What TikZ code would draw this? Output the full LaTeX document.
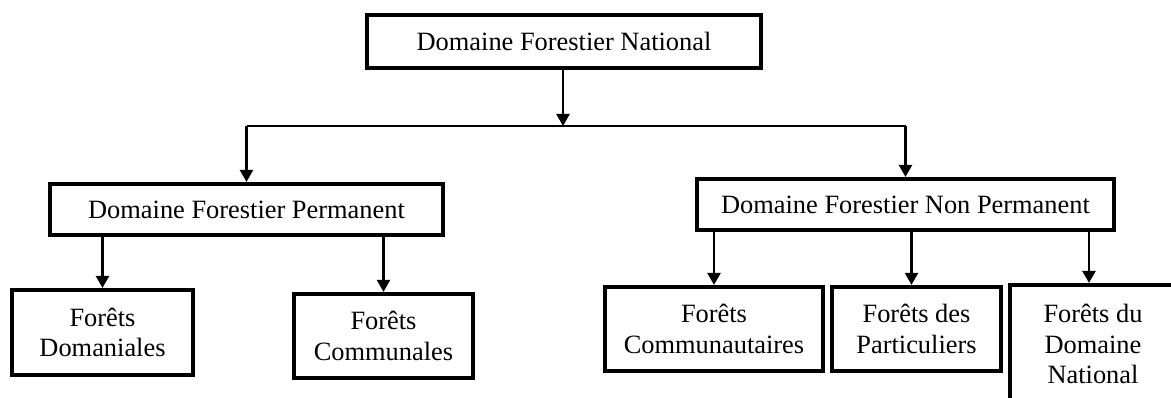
\documentclass[tikz,border=0pt]{standalone}
\usepackage{fontspec}
\setmainfont{Liberation Serif}
\usetikzlibrary{arrows.meta,calc}

\tikzset{
  box/.style={draw=black, line width=4.2pt, inner sep=0pt, align=center,
    font=\fontsize{26.4}{30.5}\selectfont, fill=white},
  link/.style={line width=2.5pt, draw=black,
    -{Triangle[length=12pt,width=13pt]}},
  bar/.style={line width=2.4pt, draw=black}
}

\begin{document}
\begin{tikzpicture}[x=1pt, y=-1pt]
  \useasboundingbox[fill=white] (0,0) rectangle (1171,398);
  \clip (0,0) rectangle (1171,398);

  % root of the hierarchy
  \node[box, minimum width=394pt, minimum height=53pt] (root) at (564,41.5)
    {Domaine Forestier National};

  % the two main domains
  \node[box, minimum width=393pt, minimum height=51pt] (perm) at (246.5,209.5)
    {Domaine Forestier Permanent};
  \node[box, minimum width=417pt, minimum height=51pt] (nonperm) at (905.5,204.5)
    {Domaine Forestier Non Permanent};

  % permanent domain forests
  \node[box, minimum width=181pt, minimum height=85pt] (dom) at (102.5,332.5)
    {Forêts\\Domaniales};
  \node[box, minimum width=179pt, minimum height=84pt] (comm) at (383.5,336)
    {Forêts\\Communales};

  % non permanent domain forests
  \node[box, minimum width=218pt, minimum height=84pt] (cmty) at (714,329)
    {Forêts\\Communautaires};
  \node[box, minimum width=169pt, minimum height=84pt] (part) at (916.5,329)
    {Forêts des\\Particuliers};
  \node[box, minimum width=166pt, minimum height=118pt] (natl) at (1093,344)
    {Forêts du\\Domaine\\National};

  % split point on the horizontal bar
  \coordinate (split) at (563,126);

  \draw[link] (root.south -| split) -- (split);
  \draw[bar] (split) -- (split -| perm.north);
  \draw[bar] (split) -- (split -| nonperm.north);
  \draw[link] (split -| perm.north) -- (perm.north);
  \draw[link] (split -| nonperm.north) -- (nonperm.north);

  \draw[link] (perm.south -| dom.north) -- (dom.north);
  \draw[link] (perm.south -| comm.north) -- (comm.north);

  \draw[link] (nonperm.south -| cmty.north) -- (cmty.north);
  \draw[link] ([xshift=-5pt]nonperm.south -| part.north) -- ([xshift=-5pt]part.north);
  \draw[link] ([xshift=-4pt]nonperm.south -| natl.north) -- ([xshift=-4pt]natl.north);
\end{tikzpicture}
\end{document}
